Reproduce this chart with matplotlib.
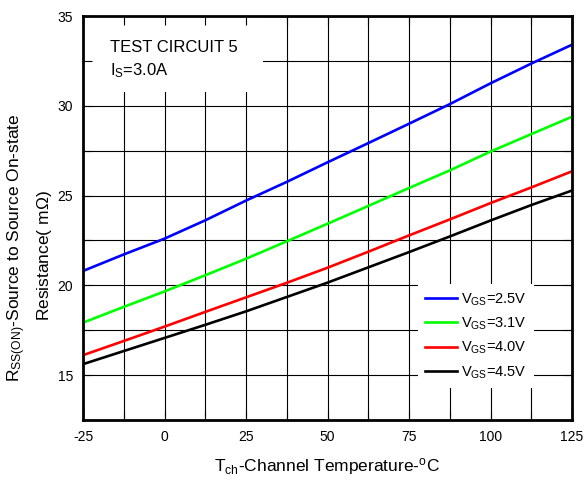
import numpy as np
import matplotlib
matplotlib.use("Agg")
import matplotlib.pyplot as plt
from matplotlib.patches import Rectangle

plt.rcParams['font.family'] = ['Liberation Sans', 'DejaVu Sans']
plt.rcParams['mathtext.fontset'] = 'custom'
plt.rcParams['mathtext.rm'] = 'Liberation Sans'
plt.rcParams['mathtext.it'] = 'Liberation Sans'
plt.rcParams['axes.unicode_minus'] = False

temp = [-25, -12.5, 0, 12.5, 25, 37.5, 50, 62.5, 75, 87.5, 100, 112.5, 125]
r_vgs25 = [20.80, 21.72, 22.60, 23.62, 24.72, 25.76, 26.85, 27.92, 29.00, 30.09, 31.25, 32.35, 33.40]
r_vgs31 = [17.92, 18.80, 19.66, 20.56, 21.48, 22.45, 23.43, 24.42, 25.42, 26.40, 27.45, 28.42, 29.39]
r_vgs40 = [16.11, 16.90, 17.70, 18.52, 19.33, 20.14, 20.98, 21.87, 22.78, 23.67, 24.58, 25.45, 26.35]
r_vgs45 = [15.61, 16.34, 17.07, 17.80, 18.55, 19.35, 20.15, 21.00, 21.85, 22.72, 23.61, 24.47, 25.28]
labels = [r'V$_{\mathrm{GS}}$=2.5V', r'V$_{\mathrm{GS}}$=3.1V', r'V$_{\mathrm{GS}}$=4.0V', r'V$_{\mathrm{GS}}$=4.5V']
colors = ['#0000ff', '#00ff00', '#ff0000', '#000000']
x_ticks = [-25, 0, 25, 50, 75, 100, 125]
y_ticks = [15, 20, 25, 30, 35]

fig = plt.figure(figsize=(5.84, 4.84), dpi=100)
ax = fig.add_axes([83/584, 1-420/484, 489/584, 404/484])
ax.set_xlim(-25, 125)
ax.set_ylim(12.5, 35)

# grid
for v in np.arange(-25, 125.1, 12.5):
    ax.axvline(v, color='black', lw=0.8, zorder=0.5)
for v in np.arange(12.5, 35.1, 2.5):
    ax.axhline(v, color='black', lw=0.8, zorder=0.5)

# white box behind text
ax.add_patch(Rectangle((0, 0.812), 0.368, 0.19, transform=ax.transAxes,
                       facecolor='white', edgecolor='none', zorder=1))

for ys, c, lab in zip([r_vgs25, r_vgs31, r_vgs40, r_vgs45], colors, labels):
    ax.plot(temp, ys, color=c, lw=1.9, label=lab, zorder=2)

ax.set_xticks(x_ticks)
ax.set_yticks(y_ticks)
ax.set_xticks(np.arange(-25, 125.1, 12.5), minor=True)
ax.set_yticks(np.arange(12.5, 35.1, 2.5), minor=True)
ax.tick_params(which='both', direction='in', top=True, right=True, length=6.5, width=0.8,
               labelsize=10)
ax.tick_params(which='major', pad=7)
for s in ax.spines.values():
    s.set_linewidth(2.0)
    s.set_zorder(3)

ax.text(-16.7, 33.0, 'TEST CIRCUIT 5', fontsize=12, va='baseline', ha='left', zorder=3)
ax.text(-16.7, 31.67, r'I$_{\mathrm{S}}$=3.0A', fontsize=12, va='baseline', ha='left', zorder=3)

leg = ax.legend(loc='lower left', bbox_to_anchor=(0.685, 0.079, 0.235, 0.282),
                fontsize=10.5, frameon=True, fancybox=False, framealpha=1,
                handlelength=2.2, handletextpad=0.25, labelspacing=0.55, borderpad=0.5,
                borderaxespad=0)
leg.get_frame().set_edgecolor('white')
leg.get_frame().set_linewidth(0)
leg.set_zorder(4)

fig.text(327/584, 1-467/484, r'T$_{\mathrm{ch}}$-Channel Temperature-$^{\mathrm{o}}$C',
         fontsize=12.5, ha='center', va='center')
fig.text(17/584, 1-248/484, r'R$_{\mathrm{SS(ON)}}$-Source to Source On-state',
         fontsize=12.5, ha='center', va='center', rotation=90)
fig.text(45/584, 1-256/484, r'Resistance( m$\Omega$)', fontsize=12.5,
         ha='center', va='center', rotation=90)

fig.savefig('out.png', dpi=100)
